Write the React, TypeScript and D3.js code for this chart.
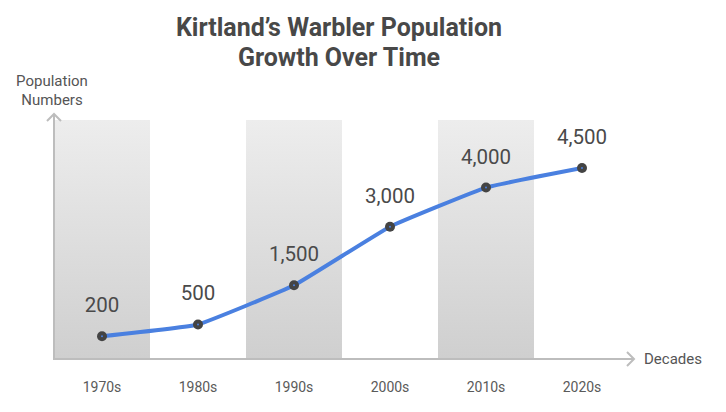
import React from "react";
import * as d3 from "d3";

const decades = ["1970s", "1980s", "1990s", "2000s", "2010s", "2020s"];
const population = [200, 500, 1500, 3000, 4000, 4500];
const valueLabels = ["200", "500", "1,500", "3,000", "4,000", "4,500"];
const titleLines = ["Kirtland’s Warbler Population", "Growth Over Time"];
const yAxisTitle = ["Population", "Numbers"];
const xAxisTitle = "Decades";

export default function App() {
  const W = 726, H = 412;
  const x = d3.scaleBand<string>().domain(decades).range([54, 630]).padding(0);
  const y = d3.scaleLinear().domain([0, 4500]).range([344, 168]);
  const top = 120, bottom = 359;
  const pts = decades.map((d, i) => [x(d)! + x.bandwidth() / 2, y(population[i])] as [number, number]);
  const line = d3.line().curve(d3.curveCardinal.tension(0.7))(pts) || "";
  const font = "Roboto, 'Noto Sans', sans-serif";
  return (
    <svg width={W} height={H} style={{ position: "absolute", left: 0, top: 0, fontFamily: font }}>
      <defs>
        <linearGradient id="band" x1="0" y1="0" x2="0" y2="1">
          <stop offset="0" stopColor="#ededed" />
          <stop offset="1" stopColor="#cfcfcf" />
        </linearGradient>
      </defs>
      <rect width={W} height={H} fill="#fff" />
      {titleLines.map((t, i) => (
        <text key={t} x={339} y={36 + i * 30} textAnchor="middle" fontSize={25} fontWeight={700} fill="#484848">{t}</text>
      ))}
      {decades.map((d, i) => i % 2 === 0 ? (
        <rect key={d} x={x(d)} y={top} width={x.bandwidth()} height={bottom - top} fill="url(#band)" />
      ) : null)}
      <line x1={54} y1={bottom} x2={54} y2={114} stroke="#bdbdbd" strokeWidth={2} />
      <path d={`M47,121 L54,114 L61,121`} fill="none" stroke="#bdbdbd" strokeWidth={2} />
      <line x1={53} y1={bottom} x2={634} y2={bottom} stroke="#bdbdbd" strokeWidth={2} />
      <path d={`M627,352 L634,359 L627,366`} fill="none" stroke="#bdbdbd" strokeWidth={2} />
      {yAxisTitle.map((t, i) => (
        <text key={t} x={52} y={86 + i * 19} textAnchor="middle" fontSize={15} fill="#555">{t}</text>
      ))}
      <text x={644} y={364} fontSize={15} fill="#555">{xAxisTitle}</text>
      {decades.map((d) => (
        <text key={d} x={x(d)! + x.bandwidth() / 2} y={392} textAnchor="middle" fontSize={14} fill="#5a5a5a">{d}</text>
      ))}
      <path d={line} fill="none" stroke="#4a80e0" strokeWidth={4} strokeLinecap="round" />
      {pts.map((p, i) => (
        <g key={i}>
          <circle cx={p[0]} cy={p[1]} r={5} fill="#444" />
          <circle cx={p[0]} cy={p[1]} r={1} fill="#4a80e0" />
          <text x={p[0]} y={p[1] - 24} textAnchor="middle" fontSize={20.5} fill="#4a4a4a">{valueLabels[i]}</text>
        </g>
      ))}
    </svg>
  );
}
